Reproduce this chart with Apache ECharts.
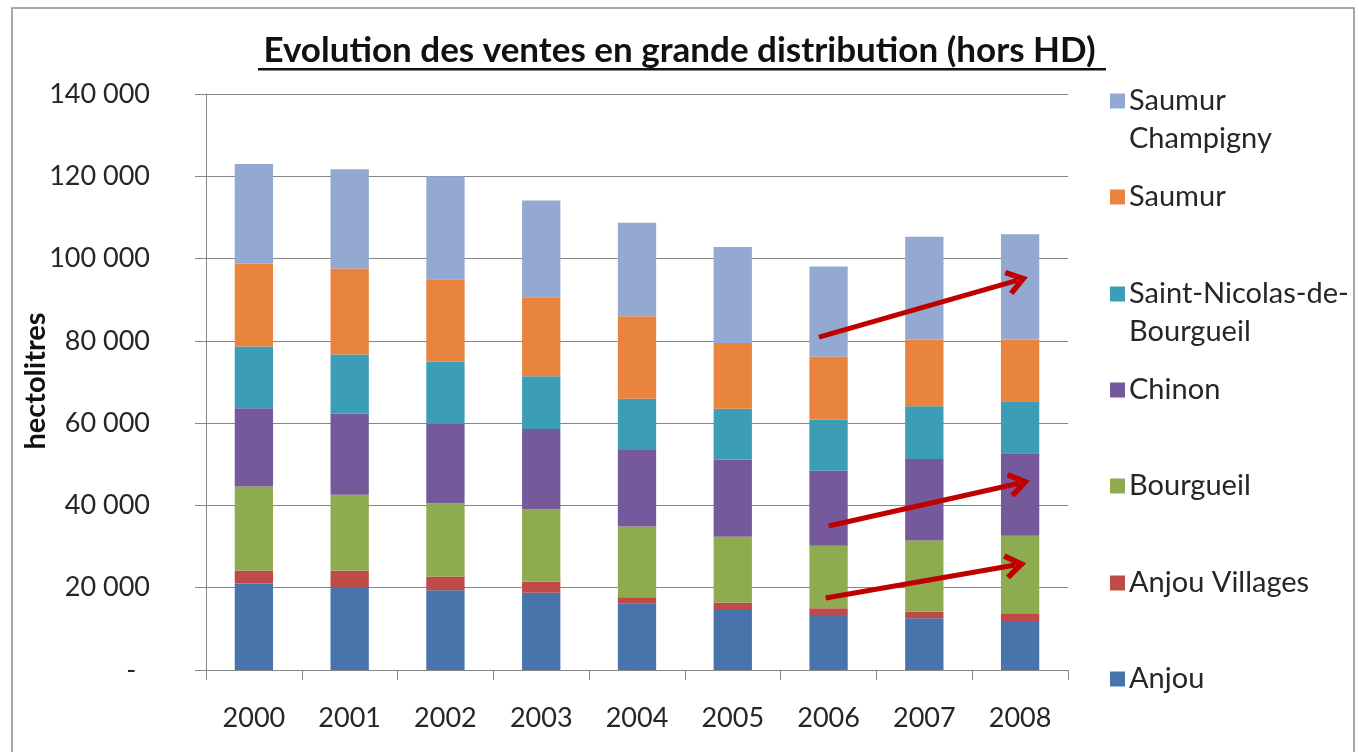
<!DOCTYPE html>
<html>
<head>
<meta charset="utf-8">
<title>Evolution des ventes en grande distribution</title>
<script src="https://cdn.jsdelivr.net/npm/echarts@6/dist/echarts.min.js"></script>
<style>
  html, body { margin: 0; padding: 0; background: #ffffff; }
  #chart { width: 1359px; height: 752px; }
</style>
</head>
<body>
<div id="chart"></div>
<script>
// years on the x axis
const years = ['2000', '2001', '2002', '2003', '2004', '2005', '2006', '2007', '2008']

// volumes in hectolitres, bottom of the stack first
const anjou = [21000, 20200, 19400, 18800, 16100, 14800, 13100, 12600, 11900]
const anjouVillages = [3200, 3900, 3300, 2700, 1600, 1600, 1900, 1600, 1900]
const bourgueil = [20400, 18500, 17800, 17600, 17200, 16000, 15200, 17300, 18800]
const chinon = [19000, 19700, 19300, 19500, 18600, 18700, 18300, 19800, 20100]
const saintNicolas = [15000, 14400, 15100, 12800, 12400, 12400, 12300, 12800, 12600]
const saumur = [20200, 20900, 20100, 19200, 20100, 16000, 15400, 16200, 15000]
const saumurChampigny = [24200, 24100, 25000, 23500, 22700, 23300, 21900, 25000, 25600]

// y axis ticks
const yTicks = [0, 20000, 40000, 60000, 80000, 100000, 120000, 140000]

// red trend arrows: [x position (year index), hl] start -> end
const trendArrows = [
  [[5.9, 80900], [7.97, 94700]],
  [[6.0, 35000], [7.99, 45400]],
  [[5.97, 17500], [7.95, 25500]],
]

const FONT = 'Lato, "Open Sans", sans-serif'

const seriesDefs = [
  { name: 'Anjou', data: anjou, color: '#4674AB' },
  { name: 'Anjou Villages', data: anjouVillages, color: '#BE4B48' },
  { name: 'Bourgueil', data: bourgueil, color: '#8EAB50' },
  { name: 'Chinon', data: chinon, color: '#76599B' },
  { name: 'Saint-Nicolas-de-Bourgueil', data: saintNicolas, color: '#3C9DB7' },
  { name: 'Saumur', data: saumur, color: '#E8843E' },
  { name: 'Saumur Champigny', data: saumurChampigny, color: '#93A9D2' },
]

// legend labels wrap like in the original
const legendLabels = {
  'Saumur Champigny': 'Saumur\nChampigny',
  'Saint-Nicolas-de-Bourgueil': 'Saint-Nicolas-de-\nBourgueil',
}

// one legend per entry, top of the first text line
const legendTops = {
  'Saumur Champigny': 77,
  'Saumur': 173,
  'Saint-Nicolas-de-Bourgueil': 270,
  'Chinon': 366,
  'Bourgueil': 462,
  'Anjou Villages': 559,
  'Anjou': 655,
}

const formatHl = (v) => {
  if (v === 0) return '-  '
  return String(v).replace(/\B(?=(\d{3})+(?!\d))/g, ' ')
}

const chart = echarts.init(document.getElementById('chart'))

const legends = seriesDefs.map((s) => {
  const twoLines = !!legendLabels[s.name]
  return {
    data: [s.name],
    orient: 'vertical',
    left: 1105,
    top: legendTops[s.name],
    selectedMode: false,
    itemGap: 0,
    itemWidth: 15,
    itemHeight: twoLines ? 53 : 15,
    // square stays on the first line of a wrapped label
    icon: twoLines ? 'path://M0,0H15V15H0Z M0,53' : 'rect',
    formatter: (name) => legendLabels[name] || name,
    textStyle: {
      fontFamily: FONT,
      fontSize: 29,
      lineHeight: 38,
      color: '#262626',
      padding: [0, 0, 0, -1],
    },
  }
})

const option = {
  animation: false,
  backgroundColor: '#ffffff',
  title: {
    text: 'Evolution des ventes en grande distribution (hors HD)',
    left: 'center',
    top: 28,
    textStyle: {
      fontFamily: FONT,
      fontSize: 35,
      fontWeight: 'bold',
      color: '#111111',
    },
  },
  legend: legends,
  grid: {
    left: 206,
    right: 291,
    top: 94,
    bottom: 82,
  },
  xAxis: [
    {
      type: 'category',
      data: years,
      axisLine: { lineStyle: { color: '#868686', width: 1 } },
      axisTick: { show: true, length: 10, lineStyle: { color: '#868686' } },
      axisLabel: {
        fontFamily: FONT,
        fontSize: 27,
        color: '#262626',
        margin: 35,
      },
    },
    {
      // hidden linear axis used only to place the arrows
      type: 'value',
      min: -0.5,
      max: 8.5,
      show: false,
    },
  ],
  yAxis: {
    type: 'value',
    min: 0,
    max: 140000,
    interval: 20000,
    axisLine: { show: true, onZero: false, lineStyle: { color: '#868686', width: 1 } },
    axisTick: { show: true, length: 11, lineStyle: { color: '#868686' } },
    splitLine: { lineStyle: { color: '#868686', width: 1 } },
    axisLabel: {
      fontFamily: FONT,
      fontSize: 27,
      color: '#262626',
      margin: 56,
      formatter: (v) => (yTicks.includes(v) ? formatHl(v) : ''),
    },
  },
  graphic: [
    {
      // outer frame of the chart
      type: 'rect',
      shape: { x: 12, y: 8, width: 1342, height: 760 },
      style: { fill: 'none', stroke: '#8c8c8c', lineWidth: 1.5 },
      silent: true,
    },
    {
      // title underline
      type: 'rect',
      shape: { x: 258, y: 68, width: 848, height: 2.5 },
      style: { fill: '#111111' },
      silent: true,
    },
    {
      // y axis title
      type: 'text',
      x: 36,
      y: 381,
      rotation: Math.PI / 2,
      silent: true,
      style: {
        text: 'hectolitres',
        fontFamily: FONT,
        fontSize: 29,
        fontWeight: 'bold',
        fill: '#111111',
        align: 'center',
        verticalAlign: 'middle',
      },
    },
  ],
  series: [
    ...seriesDefs.map((s) => ({
      name: s.name,
      type: 'bar',
      stack: 'total',
      barWidth: '40%',
      data: s.data,
      itemStyle: { color: s.color },
    })),
    {
      name: 'arrows',
      type: 'line',
      xAxisIndex: 1,
      data: [],
      silent: true,
      markLine: {
        silent: true,
        symbol: ['none', 'path://M12,0 L24,17 L20,20 L12,9 L4,20 L0,17 Z'],
        symbolSize: [26, 22],
        label: { show: false },
        lineStyle: { color: '#C00000', width: 5, type: 'solid' },
        data: trendArrows.map(([a, b]) => [{ coord: a }, { coord: b }]),
      },
    },
  ],
}

chart.setOption(option)
window.addEventListener('resize', () => chart.resize())
</script>
</body>
</html>
